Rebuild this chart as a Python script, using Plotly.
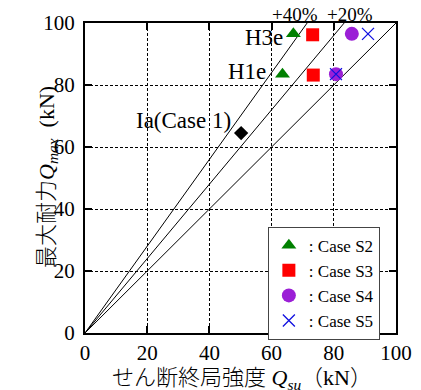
import plotly.graph_objects as go

# data (kN)
ia_x = [50.2]; ia_y = [64.5]
s2_x = [63.5, 67.0]; s2_y = [83.5, 96.5]
s3_x = [73.4, 73.2]; s3_y = [83.2, 96.2]
s4_x = [80.7, 85.8]; s4_y = [83.5, 96.5]
s5_x = [80.7, 91.0]; s5_y = [83.5, 96.5]
ref_slopes = [1.0, 1.2, 1.4]
ref_labels = ["+40%", "+20%"]
point_labels = ["Ia(Case 1)", "H1e", "H3e"]
ticks = [0, 20, 40, 60, 80, 100]

serif = "Liberation Serif"
jp = "Noto Sans CJK JP"
fig = go.Figure()

for k in ref_slopes:
    fig.add_trace(go.Scatter(x=[0, 100 / k], y=[0, 100], mode="lines",
                             line=dict(color="black", width=1), showlegend=False, hoverinfo="skip"))

fig.add_trace(go.Scatter(x=ia_x, y=ia_y, mode="markers", showlegend=False,
                         marker=dict(symbol="diamond", size=11, color="black")))
fig.add_trace(go.Scatter(x=s2_x, y=s2_y, mode="markers", name=": Case S2",
                         marker=dict(symbol="triangle-up", size=13, color="#008000")))
fig.add_trace(go.Scatter(x=s3_x, y=s3_y, mode="markers", name=": Case S3",
                         marker=dict(symbol="square", size=13, color="#ff0000")))
fig.add_trace(go.Scatter(x=s4_x, y=s4_y, mode="markers", name=": Case S4",
                         marker=dict(symbol="circle", size=14, color="#9b1fd6")))
fig.add_trace(go.Scatter(x=s5_x, y=s5_y, mode="markers", name=": Case S5",
                         marker=dict(symbol="x-thin-open", size=12, color="#1010e0",
                                     line=dict(color="#1010e0", width=1.3))))

axis_common = dict(range=[0, 100], tickvals=ticks, ticks="inside", ticklen=7, tickwidth=2,
                   tickcolor="black", showline=True, linewidth=2, linecolor="black", mirror="ticks",
                   showgrid=True, gridcolor="black", gridwidth=1, griddash="3px,2px",
                   zeroline=False, automargin=False,
                   tickfont=dict(family=serif, size=21, color="black"))

fig.update_layout(
    width=413, height=382,
    margin=dict(l=77, r=25, t=15, b=57, autoexpand=False),
    font=dict(family=serif, size=20, color="black"),
    paper_bgcolor="white", plot_bgcolor="white",
    xaxis=dict(**axis_common),
    yaxis=dict(**axis_common, ticklabelstandoff=4),
    legend=dict(x=0.588, y=0.343, xanchor="left", yanchor="top",
                bgcolor="white", bordercolor="#444", borderwidth=1,
                font=dict(family=serif, size=17, color="black"),
                itemwidth=30, tracegroupgap=0),
)

jp_span = "<span style='font-family:" + jp + ";font-weight:300'>{}</span>"
ann = [
    dict(x=67.5, y=100, text=ref_labels[0], xref="x", yref="y", showarrow=False,
         yanchor="bottom", yshift=-4, font=dict(family=serif, size=19, color="black")),
    dict(x=85.3, y=100, text=ref_labels[1], xref="x", yref="y", showarrow=False,
         yanchor="bottom", yshift=-4, font=dict(family=serif, size=19, color="black")),
    dict(x=47.5, y=68.7, text=point_labels[0], xref="x", yref="y", showarrow=False,
         xanchor="right", font=dict(family=serif, size=23, color="black")),
    dict(x=58.9, y=84.2, text=point_labels[1], xref="x", yref="y", showarrow=False,
         xanchor="right", font=dict(family=serif, size=23, color="black")),
    dict(x=64.4, y=95.2, text=point_labels[2], xref="x", yref="y", showarrow=False,
         xanchor="right", font=dict(family=serif, size=23, color="black")),
    dict(x=0.505, y=-0.14, xref="paper", yref="paper", showarrow=False, yanchor="middle",
         text=jp_span.format("せん断終局強度") + " <i>Q</i><sub><i>su</i></sub>"
              + jp_span.format("（") + "kN" + jp_span.format("）"),
         font=dict(family=serif, size=22, color="black")),
    dict(x=-0.19, y=0.503, xref="paper", yref="paper", showarrow=False, textangle=-90,
         text=jp_span.format("最大耐力") + "<i>Q</i><sub><i>max</i></sub>  (kN)",
         font=dict(family=serif, size=22, color="black")),
]
fig.update_layout(annotations=ann)
fig.write_html("out.html")
